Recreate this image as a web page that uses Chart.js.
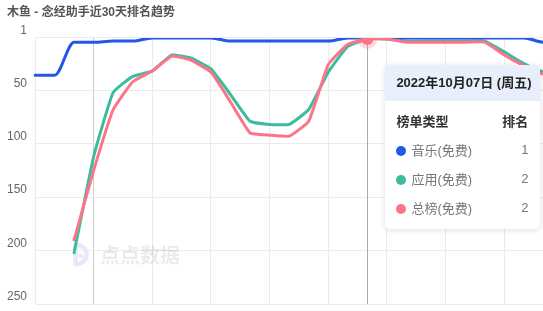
<!DOCTYPE html>
<html>
<head>
<meta charset="utf-8">
<script src="https://cdn.jsdelivr.net/npm/chart.js@4/dist/chart.umd.min.js"></script>
<style>
  html, body { margin: 0; padding: 0; background: #fff; overflow: hidden; }
  .wrap { position: relative; width: 612px; height: 311px; }
  .tip {
    position: absolute; width: 155px; background: #fff; border-radius: 5px;
    box-shadow: 0 1px 6px rgba(0, 0, 0, 0.13); overflow: hidden;
    font-family: 'Liberation Sans', 'Noto Sans CJK SC', sans-serif; font-size: 13px;
  }
  .tip-head {
    background: #e8eefc; height: 36px; line-height: 36px; padding: 0 11px;
    font-weight: bold; color: #222; white-space: nowrap;
  }
  .tip-body { padding: 5px 12px 7px 11px; }
  .tip-row { display: flex; justify-content: space-between; align-items: center; height: 29px; color: #777; }
  .tip-row.th { font-weight: bold; color: #333; }
  .dot { display: inline-block; width: 10px; height: 10px; border-radius: 50%; margin-right: 5px; vertical-align: -1px; }
</style>
</head>
<body>
<div class="wrap">
  <canvas id="rank-chart"></canvas>
  <div id="rank-tip" class="tip"></div>
</div>
<script>
// 近30天 (2022-09-20 ~ 2022-10-19)
const dates = [
  '2022-09-20', '2022-09-21', '2022-09-22', '2022-09-23', '2022-09-24', '2022-09-25',
  '2022-09-26', '2022-09-27', '2022-09-28', '2022-09-29', '2022-09-30', '2022-10-01',
  '2022-10-02', '2022-10-03', '2022-10-04', '2022-10-05', '2022-10-06', '2022-10-07',
  '2022-10-08', '2022-10-09', '2022-10-10', '2022-10-11', '2022-10-12', '2022-10-13',
  '2022-10-14', '2022-10-15', '2022-10-16', '2022-10-17', '2022-10-18', '2022-10-19'
];
const musicRank = [36, 36, 5, 5, 4, 4, 1, 1, 1, 1, 4, 4, 4, 4, 4, 4, 1, 1, 1, 1, 1, 1, 1, 1, 1, 1, 5, 5, 5, 5];
const appRank = [null, null, 202, 112, 52, 37, 32, 17, 20, 30, 54, 79, 82, 82, 68, 33, 9, 2, 2, 4, 4, 4, 4, 4, 14, 25, 33, 40, 42, 45];
const totalRank = [null, null, 190, 125, 68, 42, 32, 18, 22, 33, 61, 90, 92, 93, 79, 26, 7, 2, 2, 5, 5, 5, 5, 5, 17, 27, 35, 40, 42, 45];
const rankTicks = [1, 50, 100, 150, 200, 250];
const seriesNames = ['音乐(免费)', '应用(免费)', '总榜(免费)'];
const seriesColors = ['#2357e6', '#3bbd9d', '#fd7489'];
const activeDay = 17;

Chart.defaults.font.family = "'Liberation Sans', 'Noto Sans CJK SC', sans-serif";

function formatDay(s) {
  const [y, m, d] = s.split('-');
  const week = '日一二三四五六'[new Date(+y, +m - 1, +d).getDay()];
  return y + '年' + m + '月' + d + '日 (周' + week + ')';
}

function renderTip(context) {
  const { chart, tooltip } = context;
  const el = document.getElementById('rank-tip');
  if (!tooltip.dataPoints || !tooltip.dataPoints.length) {
    el.style.display = 'none';
    return;
  }
  const idx = tooltip.dataPoints[0].dataIndex;
  const all = [musicRank, appRank, totalRank];
  let html = '<div class="tip-head">' + formatDay(dates[idx]) + '</div><div class="tip-body">';
  html += '<div class="tip-row th"><span>榜单类型</span><span>排名</span></div>';
  all.forEach((arr, i) => {
    html += '<div class="tip-row"><span><i class="dot" style="background:' + seriesColors[i] + '"></i>' +
      seriesNames[i] + '</span><span>' + arr[idx] + '</span></div>';
  });
  html += '</div>';
  el.innerHTML = html;
  el.style.display = 'block';
  el.style.left = (chart.scales.x.getPixelForValue(idx) + 18) + 'px';
  el.style.top = (chart.chartArea.top + 27) + 'px';
}

// 竖向指示线 + 水印
const crosshair = {
  id: 'crosshair',
  beforeDatasetsDraw(chart) {
    const { ctx, chartArea, scales } = chart;
    const x = Math.round(scales.x.getPixelForValue(activeDay)) + 0.5;
    ctx.save();
    ctx.strokeStyle = '#aaa';
    ctx.lineWidth = 1;
    ctx.beginPath();
    ctx.moveTo(x, chartArea.top);
    ctx.lineTo(x, chartArea.bottom);
    ctx.stroke();

    const l = chartArea.left + 40.5, cy = chartArea.bottom - 49.5, r = 9.5;
    ctx.strokeStyle = '#e4eafb';
    ctx.lineWidth = 4.5;
    ctx.beginPath();
    ctx.moveTo(l, cy - r);
    ctx.lineTo(l, cy + r);
    ctx.arc(l + 1.5, cy, r, Math.PI / 2, -Math.PI / 2, true);
    ctx.closePath();
    ctx.stroke();
    ctx.fillStyle = '#fde1e5';
    ctx.beginPath();
    ctx.arc(l + 5.5, cy + 1.5, 2.5, 0, Math.PI * 2);
    ctx.fill();
    ctx.fillStyle = 'rgba(0, 0, 0, 0.08)';
    ctx.font = "bold 20px 'Noto Sans CJK SC'";
    ctx.textBaseline = 'middle';
    ctx.fillText('点点数据', chartArea.left + 65, chartArea.bottom - 49);
    ctx.restore();
  }
};

const ctx = document.getElementById('rank-chart').getContext('2d');
const chart = new Chart(ctx, {
  type: 'line',
  data: {
    labels: dates,
    datasets: [{
      label: seriesNames[0],
      data: musicRank,
      borderColor: seriesColors[0],
      cubicInterpolationMode: 'monotone',
      order: 1
    }, {
      label: seriesNames[1],
      data: appRank,
      borderColor: seriesColors[1],
      tension: 0.12,
      order: 2
    }, {
      label: seriesNames[2],
      data: totalRank,
      borderColor: seriesColors[2],
      tension: 0.12,
      order: 0,
      pointHoverRadius: 6,
      pointHoverBorderWidth: 8,
      pointHoverBackgroundColor: seriesColors[2],
      pointHoverBorderColor: 'rgba(253, 116, 137, 0.28)'
    }]
  },
  options: {
    responsive: true,
    maintainAspectRatio: false,
    animation: false,
    events: [],
    layout: { padding: { left: 7, right: 10, top: 0, bottom: 7 } },
    elements: {
      line: { borderWidth: 3, borderJoinStyle: 'round', borderCapStyle: 'round' },
      point: { radius: 0 }
    },
    plugins: {
      legend: { display: false },
      title: {
        display: true,
        text: '木鱼 - 念经助手近30天排名趋势',
        align: 'start',
        color: '#555',
        font: { size: 12, weight: 'bold' },
        padding: { top: 5, bottom: 18.5 }
      },
      tooltip: { enabled: false, external: renderTip, mode: 'index', intersect: false }
    },
    scales: {
      x: {
        ticks: { display: false },
        border: { display: false },
        afterFit: s => { s.height = 0; },
        grid: {
          drawTicks: false,
          color: c => c.index % 3 !== 0 ? 'transparent' : (c.index === 3 ? '#cdcdcd' : '#ebebeb')
        }
      },
      y: {
        reverse: true,
        min: 1,
        max: 250,
        afterBuildTicks: s => { s.ticks = rankTicks.map(v => ({ value: v })); },
        afterFit: s => { s.width = 28; s.paddingTop = 0; s.paddingBottom = 0; },
        ticks: { padding: 8, labelOffset: -7, color: '#666', font: { size: 12 } },
        border: { display: false },
        grid: { drawTicks: false, color: '#ebebeb' }
      }
    }
  },
  plugins: [crosshair]
});

chart.setActiveElements([{ datasetIndex: 2, index: activeDay }]);
chart.tooltip.setActiveElements(
  [0, 1, 2].map(i => ({ datasetIndex: i, index: activeDay })),
  { x: chart.scales.x.getPixelForValue(activeDay), y: chart.chartArea.top }
);
chart.update();
</script>
</body>
</html>
